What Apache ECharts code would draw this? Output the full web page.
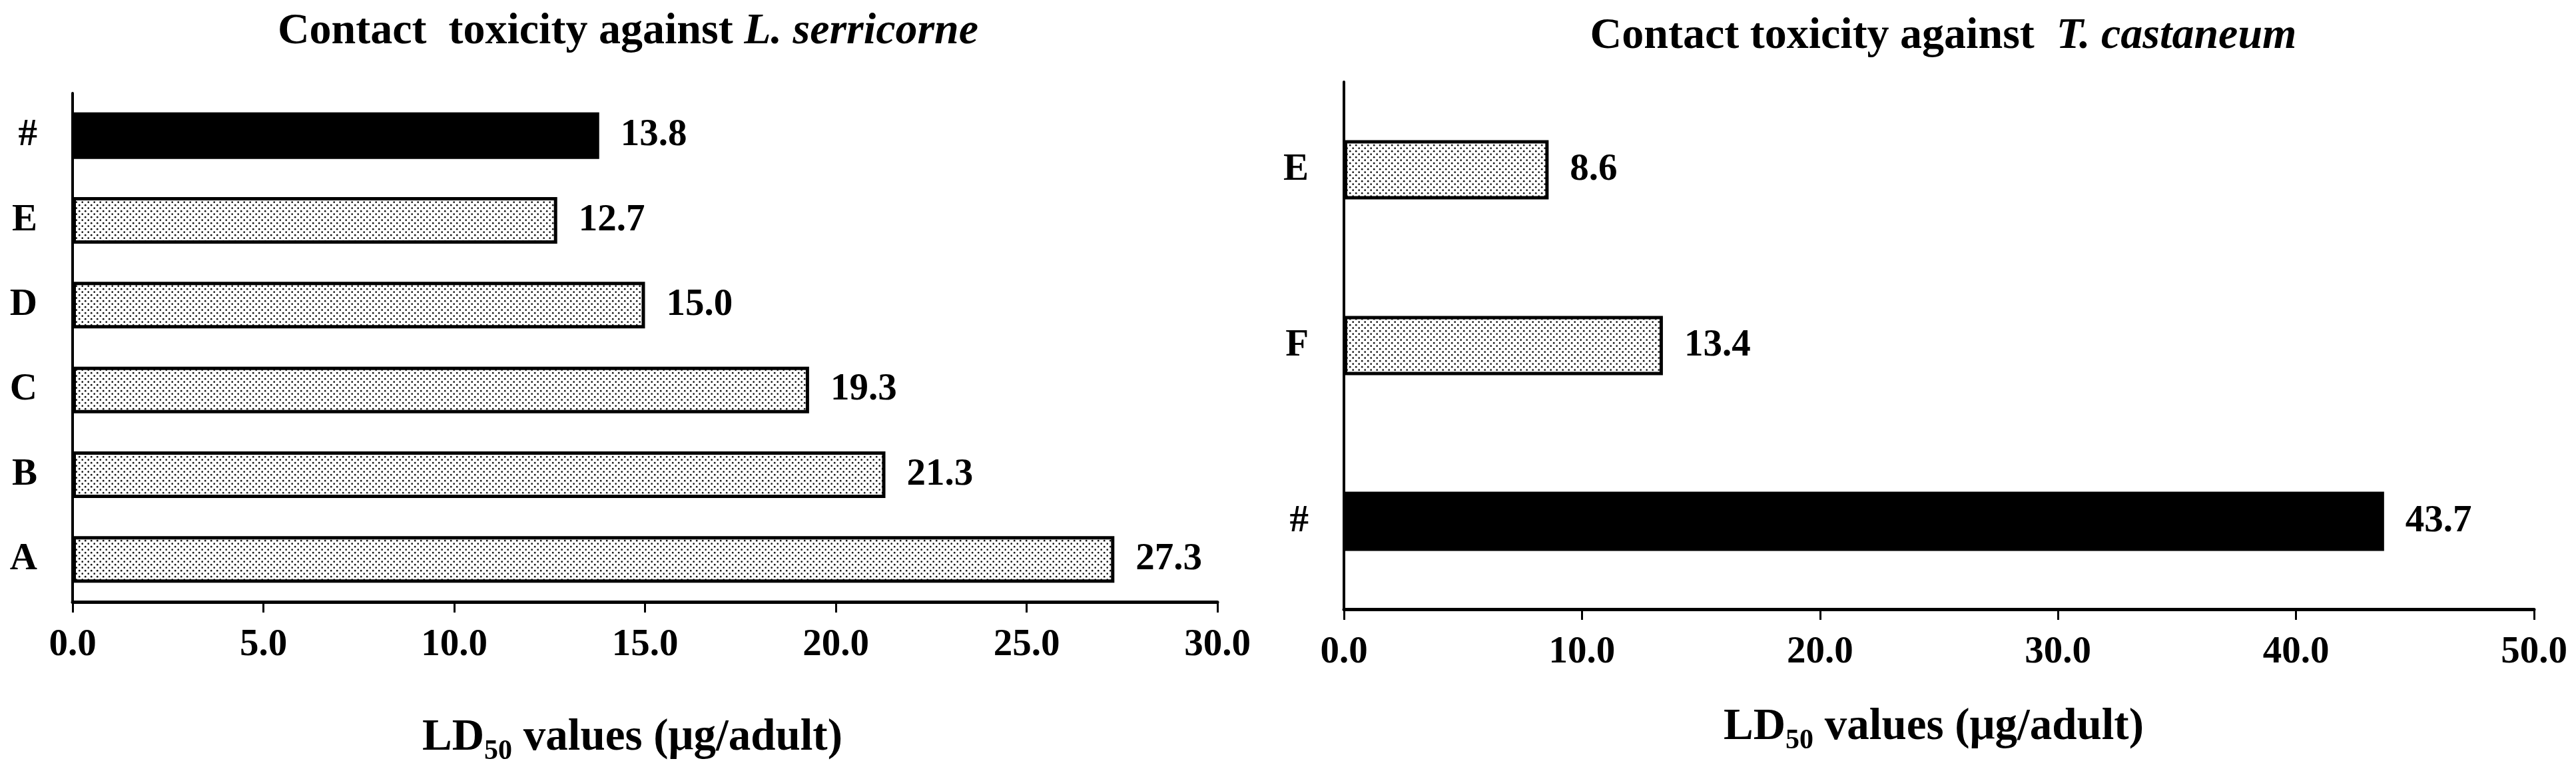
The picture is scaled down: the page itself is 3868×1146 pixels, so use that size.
<!DOCTYPE html>
<html><head><meta charset="utf-8">
<script src="https://cdn.jsdelivr.net/npm/echarts@6/dist/echarts.min.js"></script>
<style>html,body{margin:0;padding:0;background:#fff}#c{width:3868px;height:1146px}</style>
</head><body><div id="c"></div>
<script>
// ---- data ----
const leftCategories = ['#', 'E', 'D', 'C', 'B', 'A'];
const leftValues = [13.8, 12.7, 15.0, 19.3, 21.3, 27.3];
const rightCategories = ['E', 'F', '#'];
const rightValues = [8.6, 13.4, 43.7];
const leftAxisTicks = [0, 5, 10, 15, 20, 25, 30];
const rightAxisTicks = [0, 10, 20, 30, 40, 50];
const leftTitleParts = ['Contact  toxicity against ', 'L. serricorne'];
const rightTitleParts = ['Contact toxicity against  ', 'T. castaneum'];
const axisNameParts = ['LD', '50', ' values (μg/adult)'];
const controlCategory = '#';

// ---- styling ----
const FONT = 'Liberation Serif';
const pc = document.createElement('canvas');
pc.width = 9; pc.height = 9;
const g = pc.getContext('2d');
g.fillStyle = '#fff'; g.fillRect(0, 0, 9, 9);
g.fillStyle = '#111';
g.beginPath(); g.arc(2.2, 2.2, 1.35, 0, Math.PI * 2); g.fill();
g.beginPath(); g.arc(6.7, 6.7, 1.35, 0, Math.PI * 2); g.fill();
const dotted = { color: { image: pc, repeat: 'repeat' }, borderColor: '#000', borderWidth: 5 };
const solid = { color: '#000', borderWidth: 0 };

function barData(cats, vals) {
  return vals.map((v, i) => ({ value: v, itemStyle: cats[i] === controlCategory ? solid : dotted }));
}

const labelStyle = { fontFamily: FONT, fontWeight: 'bold', fontSize: 57, color: '#000' };

function xAxis(gridIndex, ticks, nameGap, padRight) {
  return {
    type: 'value', gridIndex,
    min: ticks[0], max: ticks[ticks.length - 1], interval: ticks[1] - ticks[0],
    axisLine: { show: true, lineStyle: { color: '#000', width: 5 } },
    axisTick: { show: true, length: 16, lineStyle: { color: '#000', width: 3 } },
    axisLabel: Object.assign({ margin: 37, formatter: v => v.toFixed(1) }, labelStyle),
    splitLine: { show: false },
    name: `{m|${axisNameParts[0]}}{s|${axisNameParts[1]}}{e|${axisNameParts[2]}}`,
    nameLocation: 'middle', nameGap,
    nameTextStyle: {
      rich: {
        m: { fontFamily: FONT, fontWeight: 'bold', fontSize: 67, lineHeight: 90, color: '#000' },
        s: { fontFamily: FONT, fontWeight: 'bold', fontSize: 42, lineHeight: 42, padding: [40, 0, 0, 0], color: '#000' },
        e: { fontFamily: FONT, fontWeight: 'bold', fontSize: 67, lineHeight: 90, color: '#000', padding: [0, padRight, 0, 0] }
      }
    }
  };
}
function yAxis(gridIndex, cats) {
  return {
    type: 'category', gridIndex, data: cats, inverse: true,
    axisLine: { show: true, lineStyle: { color: '#000', width: 4 } },
    axisTick: { show: false },
    axisLabel: Object.assign({ margin: 53 }, labelStyle),
    splitLine: { show: false }
  };
}
function titleRich() {
  return {
    b: { fontFamily: FONT, fontWeight: 'bold', fontSize: 66, lineHeight: 66, color: '#000' },
    i: { fontFamily: FONT, fontWeight: 'bold', fontStyle: 'italic', fontSize: 66, lineHeight: 66, color: '#000' }
  };
}
function series(idx, cats, vals, width) {
  return {
    type: 'bar', xAxisIndex: idx, yAxisIndex: idx,
    data: barData(cats, vals), barWidth: width,
    label: Object.assign({ show: true, position: 'right', distance: 32, formatter: p => p.value.toFixed(1) }, labelStyle),
    emphasis: { disabled: true }, animation: false
  };
}

const chart = echarts.init(document.getElementById('c'), null, { renderer: 'canvas' });
chart.setOption({
  backgroundColor: '#fff',
  animation: false,
  title: [
    { text: `{b|${leftTitleParts[0]}}{i|${leftTitleParts[1]}}`, left: 938, top: 10, textAlign: 'center', textStyle: { rich: titleRich() } },
    { text: `{b|${rightTitleParts[0]}}{i|${rightTitleParts[1]}}`, left: 2913, top: 17, textAlign: 'center', textStyle: { rich: titleRich() } }
  ],
  grid: [
    { left: 109, top: 140, width: 1719, height: 764, containLabel: false, outerBoundsMode: 'none' },
    { left: 2018, top: 123, width: 1787, height: 792, containLabel: false, outerBoundsMode: 'none' }
  ],
  xAxis: [xAxis(0, leftAxisTicks, 160, 38), xAxis(1, rightAxisTicks, 133, 16)],
  yAxis: [yAxis(0, leftCategories), yAxis(1, rightCategories)],
  series: [series(0, leftCategories, leftValues, '55%'), series(1, rightCategories, rightValues, '33.7%')]
});
</script></body></html>
